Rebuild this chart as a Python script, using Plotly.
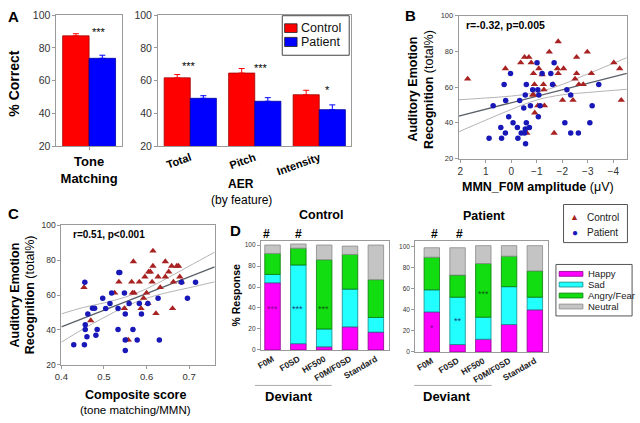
import plotly.graph_objects as go

FONT = "Liberation Sans, Arial, Helvetica, sans-serif"
W, H = 640, 423

# ---------------- Panel A data ----------------
tone_cat = ["Tone Matching"]
tone_control = [87.3]
tone_patient = [73.6]
tone_control_err = [1.3]
tone_patient_err = [1.9]

aer_cat = ["Total", "Pitch", "Intensity"]
aer_control = [61.7, 64.6, 51.4]
aer_patient = [49.2, 47.4, 42.3]
aer_control_err = [2.0, 2.8, 2.7]
aer_patient_err = [1.6, 2.2, 2.9]

# ---------------- Panel B data (MMN_F0M amplitude vs AER total%) ----------------
b_control_x = [1.71, 0.23, -0.37, -0.52, -0.69, -0.78, -0.87, -0.91, -0.84, -1.08,
               -1.21, -1.26, -1.28, -1.49, -1.84, -1.81, -2.05, -1.84, -1.64, -1.30,
               -1.04, -0.92, -0.61, -2.01, -1.68, -2.42, -2.56, -2.56, -2.50, -2.65,
               -2.82, -2.98, -3.14, -4.02, -4.25, -4.31, -0.88]
b_control_y = [64.6, 70.4, 73.7, 76.8, 76.8, 73.7, 67.7, 61.5, 55.6, 70.4,
               67.0, 61.5, 58.6, 79.7, 85.5, 70.4, 70.4, 67.7, 61.5, 49.6,
               49.6, 45.6, 34.3, 52.7, 34.3, 52.7, 76.8, 67.7, 64.6, 61.5,
               61.5, 79.7, 67.7, 73.7, 70.4, 52.7, 55.6]
b_patient_x = [0.87, 0.71, 0.41, 0.38, 0.23, 0.22, 0.28, 0.03, 0.10, -0.07,
               -0.24, -0.26, -0.33, -0.39, -0.49, -0.55, -0.59, -0.59, -0.55, -0.52,
               -0.56, -0.71, -0.75, -0.84, -1.01, -1.04, -1.06, -1.08, -1.13, -1.21,
               -1.55, -1.62, -1.68, -2.18, -2.33, -2.10, -2.33, -2.63, -3.08, -3.17,
               -3.43]
b_patient_y = [31.4, 49.6, 37.4, 31.4, 34.3, 52.5, 61.5, 67.7, 43.4, 40.1,
               37.4, 31.4, 52.5, 34.3, 48.3, 55.6, 61.5, 40.1, 36.5, 34.3,
               28.3, 37.4, 49.6, 58.6, 73.7, 58.6, 43.4, 55.6, 49.6, 67.7,
               67.7, 61.5, 73.7, 58.6, 55.6, 40.1, 34.3, 34.3, 40.1, 49.6,
               61.5]
b_fit_x = [2.06, -4.53]
b_fit_y = [43.8, 67.7]
b_ci_x = [2.06, 1, 0, -1, -2, -3, -4.53]
b_ci_upper = [52.9, 53.9, 55.0, 57.0, 61.5, 67.4, 76.5]
b_ci_lower = [35.0, 41.5, 47.5, 52.8, 55.7, 57.0, 58.8]

# ---------------- Panel C data (composite score vs AER total%) ----------------
c_control_x = [0.453, 0.469, 0.525, 0.535, 0.548, 0.567, 0.571, 0.569, 0.565, 0.552,
               0.557, 0.583, 0.587, 0.593, 0.596, 0.600, 0.603, 0.605, 0.613, 0.609,
               0.615, 0.615, 0.622, 0.627, 0.632, 0.644, 0.644, 0.652, 0.659, 0.663,
               0.661, 0.671, 0.675, 0.678, 0.682]
c_control_y = [64.4, 45.4, 61.2, 67.5, 52.3, 61.2, 61.2, 79.2, 67.5, 34.3,
               34.3, 67.5, 52.3, 58.2, 70.5, 61.2, 55.2, 73.3, 67.5, 73.3,
               85.3, 76.6, 49.5, 70.5, 64.4, 79.2, 70.5, 73.3, 76.6, 67.5,
               52.3, 76.6, 76.6, 70.5, 67.5]
c_patient_x = [0.429, 0.454, 0.455, 0.456, 0.456, 0.460, 0.462, 0.473, 0.478, 0.484,
               0.481, 0.497, 0.504, 0.514, 0.518, 0.533, 0.533, 0.535, 0.537, 0.548,
               0.550, 0.550, 0.550, 0.559, 0.568, 0.578, 0.583, 0.588, 0.603, 0.627,
               0.630, 0.682, 0.696, 0.715]
c_patient_y = [31.5, 31.5, 67.3, 43.0, 40.2, 36.1, 49.1, 52.4, 52.4, 40.2,
               37.0, 58.2, 52.3, 55.2, 61.2, 52.3, 40.2, 72.9, 72.9, 61.2,
               49.1, 34.3, 28.2, 55.2, 40.2, 34.3, 55.2, 49.1, 55.2, 58.2,
               34.3, 67.3, 58.2, 67.3]
c_fit_x = [0.4, 0.76]
c_fit_y = [41.8, 76.1]
c_ci_x = [0.4, 0.45, 0.5, 0.55, 0.6, 0.65, 0.7, 0.76]
c_ci_upper = [49.2, 52.8, 55.5, 58.8, 63.6, 69.9, 76.6, 84.6]
c_ci_lower = [33.0, 40.4, 47.1, 53.4, 58.2, 61.5, 64.2, 67.6]

# ---------------- Panel D data (% response by emotion) ----------------
d_cat = ["F0M", "F0SD", "HF500", "F0M/F0SD", "Standard"]
emotions = ["Happy", "Sad", "Angry/Fear", "Neutral"]
d_control = {
    "Happy": [64, 6, 3, 22, 17],
    "Sad": [8, 75, 17, 36, 14],
    "Angry/Fear": [20, 16, 66, 33, 36],
    "Neutral": [8, 4, 14, 8, 33],
}
d_patient = {
    "Happy": [38, 7, 12, 26, 40],
    "Sad": [21, 45, 21, 36, 12],
    "Angry/Fear": [31, 21, 51, 29, 25],
    "Neutral": [9, 26, 17, 10, 24],
}

# ---------------- styles ----------------
RED, BLUE = "#ff0000", "#0000ff"
TRI, DOT = "#a82222", "#1818b8"
EMO_FILL = {"Happy": "#ff00ff", "Sad": "#22ffff", "Angry/Fear": "#11dd11", "Neutral": "#c4c4c4"}
EMO_LINE = {"Happy": "#8a008a", "Sad": "#138a8a", "Angry/Fear": "#0a7a0a", "Neutral": "#8a8a8a"}


def px(x):
    return x / W


def py(y):
    return 1 - y / H


fig = go.Figure()

# Panel A bars
for vals, errs, col, edge in [(tone_control, tone_control_err, RED, "#a00000"),
                              (tone_patient, tone_patient_err, BLUE, "#0000a0")]:
    fig.add_trace(go.Bar(x=tone_cat, y=vals, xaxis="x", yaxis="y", showlegend=False,
                         marker=dict(color=col, line=dict(color=edge, width=0.8)),
                         error_y=dict(type="data", array=errs, arrayminus=[0] * len(errs),
                                      symmetric=False, color=col, thickness=1, width=3)))
for vals, errs, col, edge in [(aer_control, aer_control_err, RED, "#a00000"),
                              (aer_patient, aer_patient_err, BLUE, "#0000a0")]:
    fig.add_trace(go.Bar(x=aer_cat, y=vals, xaxis="x2", yaxis="y2", showlegend=False,
                         marker=dict(color=col, line=dict(color=edge, width=0.8)),
                         error_y=dict(type="data", array=errs, arrayminus=[0] * len(errs),
                                      symmetric=False, color=col, thickness=1, width=3)))

# Panels B and C: fit lines then points
for (fx, fy, cx, cu, cl, xa, ya) in [(b_fit_x, b_fit_y, b_ci_x, b_ci_upper, b_ci_lower, "x3", "y3"),
                                      (c_fit_x, c_fit_y, c_ci_x, c_ci_upper, c_ci_lower, "x4", "y4")]:
    for ci in (cu, cl):
        fig.add_trace(go.Scatter(x=cx, y=ci, mode="lines", xaxis=xa, yaxis=ya, showlegend=False,
                                 line=dict(color="#b4b4b4", width=1, shape="spline")))
    fig.add_trace(go.Scatter(x=fx, y=fy, mode="lines", xaxis=xa, yaxis=ya, showlegend=False,
                             line=dict(color="#5a606a", width=1.3)))

for (xs, ys, xa, ya) in [(b_control_x, b_control_y, "x3", "y3"), (c_control_x, c_control_y, "x4", "y4")]:
    fig.add_trace(go.Scatter(x=xs, y=ys, mode="markers", xaxis=xa, yaxis=ya, showlegend=False,
                             marker=dict(symbol="triangle-up", size=6.5, color=TRI,
                                         line=dict(width=0))))
for (xs, ys, xa, ya) in [(b_patient_x, b_patient_y, "x3", "y3"), (c_patient_x, c_patient_y, "x4", "y4")]:
    fig.add_trace(go.Scatter(x=xs, y=ys, mode="markers", xaxis=xa, yaxis=ya, showlegend=False,
                             marker=dict(symbol="circle", size=5.5, color=DOT, line=dict(width=0))))

# Panel D stacked bars (base from cumulative sums)
for data, xa, ya, grp in [(d_control, "x5", "y5", "c"), (d_patient, "x6", "y6", "p")]:
    base = [0] * len(d_cat)
    for emo in emotions:
        vals = data[emo]
        fig.add_trace(go.Bar(x=d_cat, y=vals, base=list(base), xaxis=xa, yaxis=ya,
                             offsetgroup=grp, width=0.6, offset=-0.3, showlegend=False,
                             marker=dict(color=EMO_FILL[emo], line=dict(color=EMO_LINE[emo], width=0.8))))
        base = [b + v for b, v in zip(base, vals)]

frame = dict(showline=True, linecolor="#9a9a9a", linewidth=1, mirror=True, showgrid=False,
             zeroline=False, ticks="outside", ticklen=3, tickcolor="#9a9a9a")


def tickf(s, c="#333"):
    return dict(size=s, color=c, family=FONT)


fig.update_layout(
    width=W, height=H, margin=dict(l=0, r=0, t=0, b=0), autosize=False,
    paper_bgcolor="white", plot_bgcolor="white", barmode="group", bargap=0.19, bargroupgap=0,
    font=dict(family=FONT, color="#000"),
    xaxis=dict(frame, anchor="y", domain=[px(50), px(116)], type="category", tickmode="array",
               tickvals=tone_cat, ticktext=["<b>Tone<br>Matching</b>"], tickfont=tickf(13, "#000")),
    yaxis=dict(frame, anchor="x", domain=[py(144.3), py(9.3)], range=[20, 100], dtick=20,
               tickfont=tickf(10.5)),
    xaxis2=dict(frame, anchor="y2", domain=[px(152.7), px(348.3)], type="category", ticks="",
                tickangle=-20, tickmode="array", tickvals=aer_cat,
                ticktext=["<b>%s</b>" % c for c in aer_cat], tickfont=tickf(11, "#000")),
    yaxis2=dict(frame, anchor="x2", domain=[py(144.3), py(9.3)], range=[20, 100], dtick=20,
                tickfont=tickf(10.5)),
    xaxis3=dict(frame, anchor="y3", domain=[px(456.7), px(626.7)], range=[2.06, -4.53], tick0=0,
                dtick=1, tickfont=tickf(10)),
    yaxis3=dict(frame, anchor="x3", domain=[py(157), py(10)], range=[20, 100], dtick=20,
                tickfont=tickf(7.5)),
    xaxis4=dict(frame, anchor="y4", domain=[px(55), px(210)], range=[0.4, 0.76],
                tickvals=[0.4, 0.5, 0.6, 0.7], tickfont=tickf(9.5)),
    yaxis4=dict(frame, anchor="x4", domain=[py(369.3), py(225.7)], range=[20, 100], dtick=20,
                tickfont=tickf(8.5)),
    xaxis5=dict(frame, anchor="y5", domain=[px(256.7), px(386)], type="category", range=[-0.45, 4.5],
                ticks="", tickangle=-30, tickmode="array", tickvals=d_cat,
                ticktext=["<b>%s</b>" % c for c in d_cat], tickfont=tickf(8.5, "#222")),
    yaxis5=dict(frame, anchor="x5", domain=[py(354), py(241.7)], range=[0, 104],
                tickvals=[0, 20, 40, 60, 80, 100], tickfont=tickf(6.5)),
    xaxis6=dict(frame, anchor="y6", domain=[px(412.7), px(546.7)], type="category",
                range=[-0.645, 4.5], ticks="", tickangle=-30, tickmode="array", tickvals=d_cat,
                ticktext=["<b>%s</b>" % c for c in d_cat], tickfont=tickf(8.5, "#222")),
    yaxis6=dict(frame, anchor="x6", domain=[py(356), py(242.3)], range=[0, 105],
                tickvals=[0, 20, 40, 60, 80, 100], tickfont=tickf(6.5)),
)

ann = []


def T(text, x, y, size, bold=False, color="#000", xanchor="center", angle=0):
    ann.append(dict(text=("<b>%s</b>" % text) if bold else text, x=px(x), y=py(y),
                    xref="paper", yref="paper", showarrow=False, textangle=angle,
                    font=dict(size=size, color=color, family=FONT), xanchor=xanchor,
                    yanchor="middle"))


def STAR(text, x, y, size, color="#000"):
    # asterisks sit high in the line box; shift anchor so the glyph centre lands on y
    T(text, x, y + 0.3 * size, size, color=color)


# Panel A text
T("A", 7, 11, 15, True)
T("% Correct", 7, 80, 14, True, angle=-90)
STAR("***", 93, 23, 11)
STAR("***", 184, 58, 11)
STAR("***", 257, 61, 11)
STAR("*", 324, 83, 11)
T("AER", 237, 183, 12, True)
T("(by feature)", 237, 200, 12)
T("Control", 295.7, 22.7, 12.5, xanchor="left", color="#111")
T("Patient", 295.7, 37.2, 12.5, xanchor="left", color="#111")

# Panel B text
T("B", 408, 10, 15, True)
T("r=-0.32, p=0.005", 461.7, 19.3, 10.5, True, xanchor="left")
T("<b>Auditory Emotion</b>", 410.5, 86, 12.5, angle=-90)
T("<b>Recognition</b> (total%)", 426, 86, 12.5, angle=-90)
T("<b>MMN_F0M amplitude</b> (μV)", 537, 186, 12.5)

# Panel C text
T("C", 7, 214, 15, True)
T("r=0.51, p<0.001", 65, 235, 10, True, xanchor="left")
T("<b>Auditory Emotion</b>", 8, 297, 12.5, angle=-90)
T("<b>Recognition</b> (total%)", 23, 297, 12.5, angle=-90)
T("<b>Composite score</b>", 130, 400.7, 12.5)
T("(tone matching/MMN)", 130, 416, 11.5)

# Panel D text
T("D", 231, 231, 15, True)
T("Control", 317, 215, 12.5, True)
T("Patient", 483, 216, 12.5, True)
T("% Response", 232, 297.5, 10.5, True, angle=-90)
for xx in (262, 295, 432, 457):
    T("#", xx, 235, 12, True)
STAR("***", 268, 309, 9, "#8a008a")
STAR("***", 294, 309, 9, "#10407a")
STAR("***", 320, 309, 9, "#0a5a0a")
STAR("*", 430, 329, 9, "#8a008a")
STAR("**", 455.5, 321, 9, "#10407a")
STAR("***", 481.7, 294, 9, "#0a5a0a")
T("Deviant", 285, 401.7, 13, True)
T("Deviant", 445, 401.7, 13, True)

# Scatter legend
T("▲", 574, 217.5, 9, color=TRI)
T("●", 574, 233.3, 10, color=DOT)
T("Control", 584, 217.3, 10, xanchor="left", color="#222")
T("Patient", 584, 233.3, 10, xanchor="left", color="#222")

# Emotion legend
emo_y = [275.7, 286.7, 298, 309.3]
for emo, yy in zip(emotions, emo_y):
    T(emo, 585, yy, 9.5, xanchor="left", color="#222")

shapes = []


def R(x0, y0, x1, y1, fill=None, line="#555", lw=1):
    shapes.append(dict(type="rect", xref="paper", yref="paper", x0=px(x0), x1=px(x1),
                       y0=py(y1), y1=py(y0), line=dict(color=line, width=lw),
                       fillcolor=fill if fill else "rgba(0,0,0,0)", layer="above"))


R(278.3, 10, 346, 50.7, line="#444")
R(280.7, 18.3, 293.3, 27.3, fill=RED, line="#222", lw=0.8)
R(280.7, 32.3, 293.3, 41.7, fill=BLUE, line="#222", lw=0.8)
R(562.7, 204.3, 627.3, 243.5, line="#555")
R(555, 266, 632, 319, line="#555")
for emo, yy in zip(emotions, emo_y):
    R(558.3, yy - 2.5, 582.3, yy + 2.5, fill=EMO_FILL[emo], line=EMO_LINE[emo], lw=0.8)

for x0, x1 in ((250.7, 328.3), (411.7, 490)):
    shapes.append(dict(type="line", xref="paper", yref="paper", x0=px(x0), x1=px(x1),
                       y0=py(390.5), y1=py(390.5), line=dict(color="#aaaaaa", width=1)))

fig.update_layout(annotations=ann, shapes=shapes)
# remove the default page margin so the 640x423 figure fills the window exactly
fig.write_html("out.html", config={"displayModeBar": False},
               post_script="document.body.style.margin='0';document.body.style.overflow='hidden';")
